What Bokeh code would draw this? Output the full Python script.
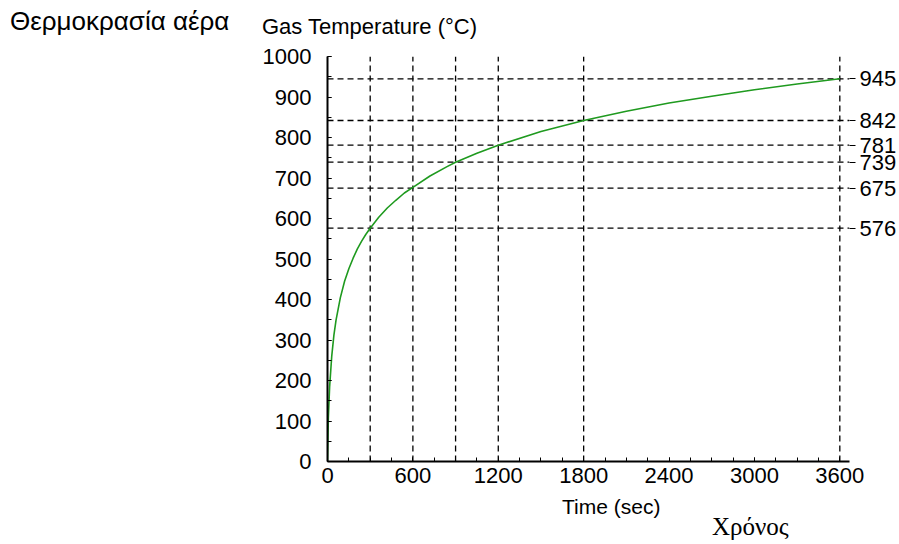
from bokeh.plotting import figure
from bokeh.layouts import column
from bokeh.models import (Range1d, SingleIntervalTicker, FixedTicker, LinearAxis, Div)
from bokeh.embed import file_html
from bokeh.resources import INLINE

# ---- data ----
time_s = [0, 6, 15, 30, 45, 60, 90, 120, 150, 180, 210, 240, 270, 300,
          360, 420, 480, 540, 600, 720, 840, 900, 1050, 1200, 1500, 1800,
          2100, 2400, 2700, 3000, 3300, 3600]
gas_temp = [0, 108, 185, 261, 312, 349, 404, 445, 476, 502, 525, 544, 561, 576,
            603, 626, 645, 663, 677, 705, 728, 739, 761, 781, 815, 842,
            865, 885, 902, 918, 932, 945]

mark_times = [300, 600, 900, 1200, 1800, 3600]
mark_temps = [576, 675, 739, 781, 842, 945]

y_title_gr = "Θερμοκρασία αέρα"
y_title_en = "Gas Temperature (°C)"
x_title_en = "Time (sec)"
x_title_gr = "Χρόνος"

SANS = "Liberation Sans"
SERIF = "Liberation Serif"
X_END = 3668
W = 899
HEAD_H = 40
FOOT_TOP = 493
TOTAL_H = 544


def span(txt, left, top, font, size):
    return (f'<span style="position:absolute;left:{left}px;top:{top}px;'
            f"font-family:'{font}';font-size:{size}px;line-height:1;color:#000;"
            f'white-space:nowrap;">{txt}</span>')


def strip(height, spans):
    return Div(width=W, height=height, margin=0,
               text=(f'<div style="position:relative;width:{W}px;height:{height}px;'
                     f'overflow:visible;">' + "".join(spans) + "</div>"))


# ---------------- header strip ----------------
head = strip(HEAD_H, [span(y_title_gr, 10, 8, SANS, 26),
                      span(y_title_en, 262, 16, SANS, 22)])

# ---------------- main chart ----------------
p = figure(width=W, height=FOOT_TOP - HEAD_H, x_range=Range1d(0, X_END), y_range=Range1d(0, 1000),
           output_backend="svg", toolbar_location=None,
           min_border_left=327, min_border_right=48, min_border_top=16, min_border_bottom=32)
p.xgrid.visible = False
p.ygrid.visible = False
p.outline_line_color = None
p.background_fill_color = "white"

for ax in (p.xaxis[0], p.yaxis[0]):
    ax.axis_line_width = 2
    ax.axis_line_color = "black"
    ax.major_tick_out = 0
    ax.major_tick_in = 4
    ax.minor_tick_out = 0
    ax.minor_tick_in = 4
    ax.major_tick_line_color = "black"
    ax.minor_tick_line_color = "black"
    ax.major_label_text_font = SANS
    ax.major_label_text_font_size = "22px"
    ax.major_label_text_color = "black"

p.xaxis[0].ticker = SingleIntervalTicker(interval=600, num_minor_ticks=4)
p.yaxis[0].ticker = SingleIntervalTicker(interval=100, num_minor_ticks=2)
p.xaxis[0].major_label_standoff = 6
p.yaxis[0].major_label_standoff = 16

# right-hand value axis
right = LinearAxis(ticker=FixedTicker(ticks=mark_temps))
right.axis_line_color = None
right.major_tick_out = 6
right.major_tick_in = 0
right.major_tick_line_color = "black"
right.minor_tick_line_color = None
right.major_label_standoff = 4
right.major_label_text_font = SANS
right.major_label_text_font_size = "22px"
right.major_label_text_color = "black"
p.add_layout(right, "right")

# dashed reference lines
p.segment(x0=mark_times, y0=[0] * len(mark_times), x1=mark_times, y1=[1000] * len(mark_times),
          line_color="black", line_width=1.3, line_dash="6 4")
p.segment(x0=[0] * len(mark_temps), y0=mark_temps, x1=[X_END] * len(mark_temps), y1=mark_temps,
          line_color="black", line_width=1.3, line_dash="6 4")

# curve
p.line(time_s, gas_temp, line_color="#1f9a1f", line_width=1.6)

# ---------------- footer strip ----------------
foot = strip(TOTAL_H - FOOT_TOP, [span(x_title_en, 562, 3, SANS, 21),
                                  span(x_title_gr, 712, 21, SERIF, 25)])

layout = column(head, p, foot, spacing=0)
open("out.html", "w").write(file_html(layout, INLINE))
